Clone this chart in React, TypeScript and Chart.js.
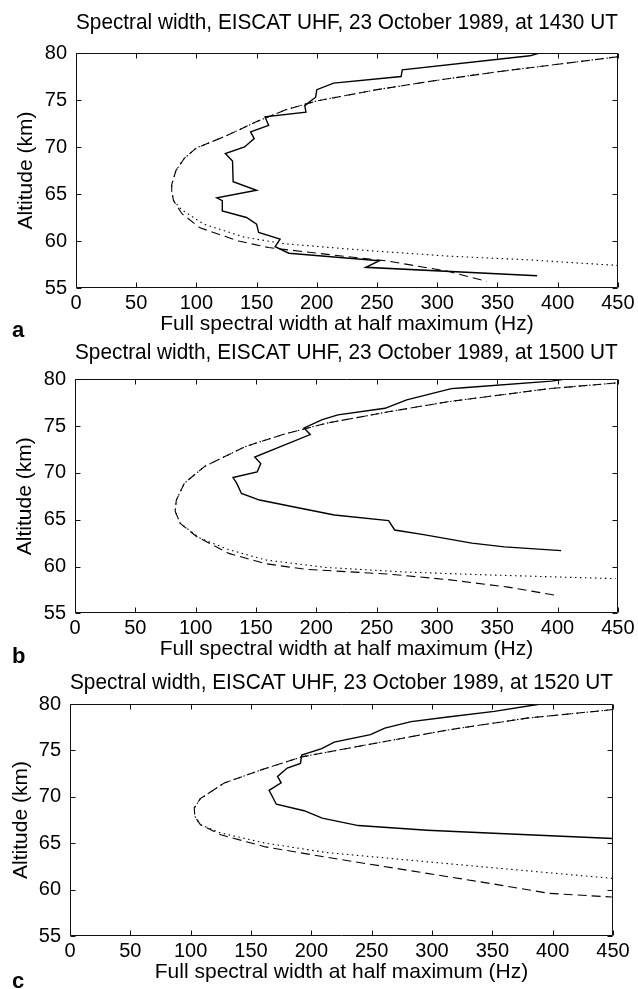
import React, { useEffect, useRef } from "react";
import { Chart, registerables } from "chart.js";

Chart.register(...registerables);

// ---------- axes / text ----------
const X_MIN = 0;
const X_MAX = 450;
const X_STEP = 50;
const Y_MIN = 55;
const Y_MAX = 80;
const Y_STEP = 5;
const X_LABEL = "Full spectral width at half maximum (Hz)";
const Y_LABEL = "Altitude (km)";
const TITLES = [
  "Spectral width, EISCAT UHF, 23 October 1989, at 1430 UT",
  "Spectral width, EISCAT UHF, 23 October 1989, at 1500 UT",
  "Spectral width, EISCAT UHF, 23 October 1989, at 1520 UT",
];
const PANEL_LETTERS = ["a", "b", "c"];

// ---------- panel a (1430 UT) ----------
const A_SOLID_HZ = [385, 377, 271, 270, 214, 200, 199, 190, 191, 157, 160, 145, 148, 140, 124, 130, 130.5, 150, 117, 121.5, 121.5, 141.6, 150, 151.7, 169.5, 165.4, 176.8, 252, 240.6, 383];
const A_SOLID_KM = [80, 79.7, 78.2, 77.5, 76.8, 76.1, 75.3, 74.4, 73.7, 73.2, 72.3, 71.6, 70.9, 70.0, 69.3, 68.5, 66.3, 65.4, 64.6, 64.3, 63.2, 62.5, 61.8, 60.9, 60.2, 59.4, 58.7, 57.9, 57.2, 56.3];
const A_UPPER_HZ = [450, 400, 350, 300, 250, 200, 175, 150, 125, 100, 90, 83, 79.5, 79.5];
const A_UPPER_KM = [79.6, 78.8, 78.0, 77.1, 76.1, 74.9, 74.0, 72.7, 71.2, 69.9, 68.8, 67.5, 66.0, 65.3];
const A_DASH_HZ = [81, 88, 103, 135, 160, 207, 257, 308, 341];
const A_DASH_KM = [64.3, 62.9, 61.4, 60.0, 59.3, 58.6, 57.9, 56.8, 55.7];
const A_DOT_HZ = [81, 88, 106, 140, 173.5, 240.6, 307.7, 374.8, 449.7];
const A_DOT_KM = [64.3, 63.3, 61.8, 60.4, 59.7, 59.0, 58.4, 58.0, 57.4];

// ---------- panel b (1500 UT) ----------
const B_SOLID_HZ = [405, 395, 322, 312, 275, 257, 218, 205, 190, 195, 149, 154, 151, 131, 134, 138, 153, 188, 215, 260, 265, 289, 329, 356, 403];
const B_SOLID_KM = [80, 79.8, 79.1, 79.0, 77.8, 76.9, 76.2, 75.7, 74.8, 74.1, 71.7, 71.0, 70.1, 69.5, 68.9, 67.8, 67.1, 66.2, 65.5, 64.9, 63.9, 63.4, 62.5, 62.1, 61.7];
const B_UPPER_HZ = [448, 393, 309, 258.6, 208, 175, 141, 107.5, 90.7, 84, 83];
const B_UPPER_KM = [79.6, 79.0, 77.6, 76.5, 75.3, 74.2, 72.8, 70.7, 68.9, 67.1, 65.9];
const B_DASH_HZ = [87.3, 100.7, 127.6, 157.8, 191, 258.6, 309, 359, 399.6];
const B_DASH_KM = [64.6, 63.2, 61.4, 60.3, 59.7, 59.2, 58.6, 57.8, 56.9];
const B_DOT_HZ = [87.3, 104, 127.6, 157.8, 208, 275, 342.5, 448];
const B_DOT_KM = [64.6, 63.0, 61.8, 60.7, 59.9, 59.4, 59.1, 58.7];

// ---------- panel c (1520 UT) ----------
const C_SOLID_HZ = [390, 351.6, 313, 282.7, 260.9, 249, 219, 208.6, 192, 191, 180, 172, 175, 165, 171, 194, 209, 239, 296, 346.5, 450];
const C_SOLID_KM = [80, 79.2, 78.6, 78.1, 77.4, 76.7, 75.9, 75.2, 74.5, 73.6, 73.1, 72.2, 71.5, 70.7, 69.2, 68.5, 67.7, 66.9, 66.4, 66.1, 65.5];
const C_UPPER_HZ = [450, 380, 313, 245.8, 192, 158.5, 128, 108, 103, 103.4, 108];
const C_UPPER_KM = [79.4, 78.5, 77.2, 75.6, 74.3, 72.9, 71.5, 69.8, 68.8, 67.9, 67.0];
const C_DASH_HZ = [125, 162, 212, 279, 346.5, 397, 449];
const C_DASH_KM = [65.9, 64.6, 63.5, 62.1, 60.7, 59.6, 59.2];
const C_DOT_HZ = [125, 162, 212, 279, 346.5, 450];
const C_DOT_KM = [66.1, 65.0, 64.0, 63.2, 62.4, 61.2];

// ---------- layout (page pixels) ----------
const FONT = "'Liberation Sans', Arial, Helvetica, sans-serif";
const PAGE_W = 638;
const PAGE_H = 989;
const TITLE_SIZE = 21.5;
const LABEL_SIZE = 21;
const TICK_SIZE = 20;
const LAYOUTS = [
  { top: 0, height: 340, left: 76, right: 619, plotTop: 53, plotBottom: 288, titleY: 23.5, xTitleY: 324, yTitleX: 26, letterY: 337 },
  { top: 340, height: 325, left: 75, right: 618, plotTop: 39.3, plotBottom: 273.3, titleY: 13.5, xTitleY: 309, yTitleX: 25, letterY: 323 },
  { top: 665, height: 324, left: 70, right: 613, plotTop: 39, plotBottom: 271, titleY: 18, xTitleY: 307, yTitleX: 21, letterY: 323 },
];

const zip = (xs: number[], ys: number[]) => xs.map((x, i) => ({ x, y: ys[i] }));

const PANELS = [
  { solid: zip(A_SOLID_HZ, A_SOLID_KM), upper: zip(A_UPPER_HZ, A_UPPER_KM), dash: zip(A_DASH_HZ, A_DASH_KM), dot: zip(A_DOT_HZ, A_DOT_KM) },
  { solid: zip(B_SOLID_HZ, B_SOLID_KM), upper: zip(B_UPPER_HZ, B_UPPER_KM), dash: zip(B_DASH_HZ, B_DASH_KM), dot: zip(B_DOT_HZ, B_DOT_KM) },
  { solid: zip(C_SOLID_HZ, C_SOLID_KM), upper: zip(C_UPPER_HZ, C_UPPER_KM), dash: zip(C_DASH_HZ, C_DASH_KM), dot: zip(C_DOT_HZ, C_DOT_KM) },
];

const framePlugin = {
  id: "frame",
  afterDraw(chart: any, _args: any, opts: any) {
    const { ctx, chartArea, scales } = chart;
    const { left, right, top, bottom } = chartArea;
    const x = scales.x;
    const y = scales.y;
    const L = Math.round(left) + 0.5;
    const R = Math.round(right) - 0.5;
    const T = Math.round(top) + 0.5;
    const B = Math.round(bottom) - 0.5;
    const tl = 5;
    ctx.save();
    ctx.strokeStyle = "#111";
    ctx.lineWidth = 1;
    ctx.setLineDash([]);
    ctx.beginPath();
    ctx.rect(L, T, R - L, B - T);
    x.ticks.forEach((t: any) => {
      const px = Math.round(x.getPixelForValue(t.value)) + 0.5;
      ctx.moveTo(px, B);
      ctx.lineTo(px, B - tl);
      ctx.moveTo(px, T);
      ctx.lineTo(px, T + tl);
    });
    y.ticks.forEach((t: any) => {
      const py = Math.round(y.getPixelForValue(t.value)) + 0.5;
      ctx.moveTo(L, py);
      ctx.lineTo(L + tl, py);
      ctx.moveTo(R, py);
      ctx.lineTo(R - tl, py);
    });
    ctx.stroke();
    ctx.fillStyle = "#000";
    ctx.font = `bold 22px ${FONT}`;
    ctx.textAlign = "left";
    ctx.textBaseline = "alphabetic";
    ctx.fillText(opts.letter, 12, opts.letterY);
    ctx.restore();
  },
};

function Panel({ index }: { index: number }) {
  const ref = useRef<HTMLCanvasElement>(null);
  const L = LAYOUTS[index];
  useEffect(() => {
    if (!ref.current) return;
    const P = PANELS[index];
    const tlh = TITLE_SIZE * 1.2;
    const llh = LABEL_SIZE * 1.2;
    const line = (data: any[], dash: number[], width: number) => ({
      data,
      showLine: true,
      borderColor: "#000",
      backgroundColor: "#000",
      borderWidth: width,
      borderDash: dash,
      pointRadius: 0,
      pointHoverRadius: 0,
      tension: 0,
      fill: false,
    });
    const chart = new Chart(ref.current, {
      type: "scatter",
      data: {
        datasets: [
          line([...P.upper, ...P.dot], [1.5, 3.5], 1.1),
          line([...P.upper, ...P.dash], [9, 5], 1.1),
          line(P.solid, [], 1.4),
        ],
      },
      options: {
        responsive: false,
        animation: false,
        devicePixelRatio: 1,
        events: [],
        layout: { padding: { left: 0, right: PAGE_W - L.right, top: 0, bottom: 0 } },
        plugins: {
          legend: { display: false },
          tooltip: { enabled: false },
          title: {
            display: true,
            text: TITLES[index],
            fullSize: false,
            color: "#000",
            font: { family: FONT, size: TITLE_SIZE, weight: "normal", lineHeight: 1.2 },
            padding: { top: L.titleY - tlh / 2, bottom: L.plotTop - L.titleY - tlh / 2 },
          },
          frame: { letter: PANEL_LETTERS[index], letterY: L.letterY },
        } as any,
        scales: {
          x: {
            type: "linear",
            min: X_MIN,
            max: X_MAX,
            grid: { display: false, drawTicks: false },
            border: { display: false },
            ticks: { stepSize: X_STEP, color: "#000", font: { family: FONT, size: TICK_SIZE, lineHeight: 1.2 }, padding: 3.5, maxRotation: 0, autoSkip: false },
            title: {
              display: true,
              text: X_LABEL,
              color: "#000",
              font: { family: FONT, size: LABEL_SIZE, lineHeight: 1.2 },
              padding: { top: 0, bottom: L.height - L.xTitleY - llh / 2 },
            },
            afterFit: (s: any) => {
              s.height = L.height - L.plotBottom;
            },
          },
          y: {
            type: "linear",
            min: Y_MIN,
            max: Y_MAX,
            grid: { display: false, drawTicks: false },
            border: { display: false },
            ticks: { stepSize: Y_STEP, color: "#000", font: { family: FONT, size: TICK_SIZE }, padding: 9 },
            title: {
              display: true,
              text: Y_LABEL,
              color: "#000",
              font: { family: FONT, size: LABEL_SIZE, lineHeight: 1.2 },
              padding: { top: L.yTitleX - llh / 2, bottom: 0 },
            },
            afterFit: (s: any) => {
              s.width = L.left;
            },
          },
        },
      } as any,
      plugins: [framePlugin],
    });
    return () => chart.destroy();
  }, [index]);
  return (
    <canvas
      ref={ref}
      width={PAGE_W}
      height={L.height}
      style={{ position: "absolute", left: 0, top: L.top, width: PAGE_W, height: L.height }}
    />
  );
}

export default function App() {
  return (
    <div style={{ position: "absolute", left: 0, top: 0, width: PAGE_W, height: PAGE_H, background: "#fff", overflow: "hidden" }}>
      <Panel index={0} />
      <Panel index={1} />
      <Panel index={2} />
    </div>
  );
}
